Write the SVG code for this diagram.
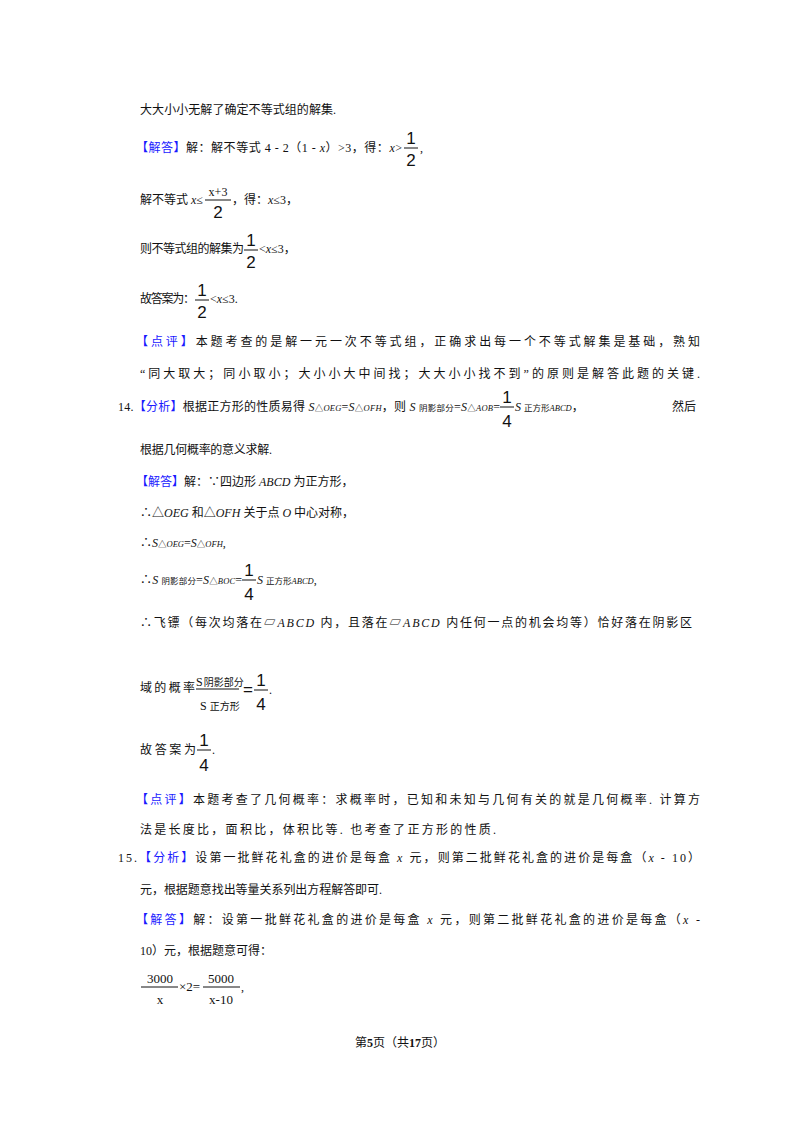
<svg xmlns="http://www.w3.org/2000/svg" width="800" height="1132" viewBox="0 0 800 1132">
<style>
text{font-family:"Liberation Serif","Noto Sans CJK SC",serif;font-size:12px;fill:#111}
.b{fill:#1a1aff}
.i{font-style:italic}
.s{font-size:8.5px}
.f{font-size:17px;font-family:"Liberation Sans","Noto Sans CJK SC",sans-serif}
.c{text-anchor:middle}
line{stroke:#111;stroke-width:1}
</style>
<rect width="800" height="1132" fill="#fff"/>
<text x="140" y="114" textLength="196">大大小小无解了确定不等式组的解集.</text>
<text x="136" y="152" textLength="266"><tspan class="b">【解答】</tspan>解：解不等式 4 - 2（1 - <tspan class="i">x</tspan>）&gt;3，得：<tspan class="i">x</tspan>&gt;</text>
<text x="411" y="144" class="f c">1</text><line x1="404" y1="148" x2="418" y2="148"/><text x="411" y="166" class="f c">2</text><text x="420" y="152">,</text>
<text x="140" y="204">解不等式 <tspan class="i">x</tspan>≤</text>
<text x="218" y="196" class="c">x+3</text><line x1="205" y1="200" x2="231" y2="200"/><text x="218" y="218" class="f c">2</text>
<text x="232" y="204">，得：<tspan class="i">x</tspan>≤3，</text>
<text x="140" y="253" textLength="104">则不等式组的解集为</text>
<text x="251" y="246" class="f c">1</text><line x1="244" y1="250" x2="258" y2="250"/><text x="251" y="268" class="f c">2</text>
<text x="259" y="253">&lt;<tspan class="i">x</tspan>≤3，</text>
<text x="140" y="303" textLength="55">故答案为：</text>
<text x="202" y="296" class="f c">1</text><line x1="195" y1="300" x2="209" y2="300"/><text x="202" y="318" class="f c">2</text>
<text x="210" y="303">&lt;<tspan class="i">x</tspan>≤3.</text>
<text x="136" y="346" textLength="564"><tspan class="b">【点评】</tspan>本题考查的是解一元一次不等式组，正确求出每一个不等式解集是基础，熟知</text>
<text x="140" y="378" textLength="560">“同大取大；同小取小；大小小大中间找；大大小小找不到”的原则是解答此题的关键.</text>
<text x="118" y="411" textLength="382">14.<tspan class="b">【分析】</tspan>根据正方形的性质易得 <tspan class="i">S</tspan><tspan class="s">△<tspan class="i">OEG</tspan></tspan>=<tspan class="i">S</tspan><tspan class="s">△<tspan class="i">OFH</tspan></tspan>，则 <tspan class="i">S</tspan> <tspan class="s">阴影部分</tspan>=<tspan class="i">S</tspan><tspan class="s">△<tspan class="i">AOB</tspan></tspan>=</text>
<text x="507" y="403" class="f c">1</text><line x1="500" y1="407" x2="514" y2="407"/><text x="507" y="427" class="f c">4</text>
<text x="515" y="411"><tspan class="i">S</tspan> <tspan class="s">正方形<tspan class="i">ABCD</tspan></tspan>，</text>
<text x="672" y="411">然后</text>
<text x="140" y="454" textLength="132">根据几何概率的意义求解.</text>
<text x="136" y="486"><tspan class="b">【解答】</tspan>解：∵四边形 <tspan class="i">ABCD</tspan> 为正方形，</text>
<text x="140" y="517">∴△<tspan class="i">OEG</tspan> 和△<tspan class="i">OFH</tspan> 关于点 <tspan class="i">O</tspan> 中心对称，</text>
<text x="140" y="547">∴<tspan class="i">S</tspan><tspan class="s">△<tspan class="i">OEG</tspan></tspan>=<tspan class="i">S</tspan><tspan class="s">△<tspan class="i">OFH</tspan></tspan>,</text>
<text x="140" y="584" textLength="102">∴<tspan class="i">S</tspan> <tspan class="s">阴影部分</tspan>=<tspan class="i">S</tspan><tspan class="s">△<tspan class="i">BOC</tspan></tspan>=</text>
<text x="249" y="576" class="f c">1</text><line x1="242" y1="580" x2="256" y2="580"/><text x="249" y="600" class="f c">4</text>
<text x="257" y="584"><tspan class="i">S</tspan> <tspan class="s">正方形<tspan class="i">ABCD</tspan></tspan>,</text>
<text x="140" y="627" textLength="552">∴飞镖（每次均落在▱<tspan class="i">ABCD</tspan> 内，且落在▱<tspan class="i">ABCD</tspan> 内任何一点的机会均等）恰好落在阴影区</text>
<text x="140" y="692" textLength="55">域的概率</text>
<text x="196" y="686">S<tspan dx="1" style="font-size:10px">阴影部分</tspan></text>
<line x1="196" y1="689" x2="239" y2="689"/>
<text x="200" y="710">S <tspan style="font-size:10px">正方形</tspan></text>
<text x="243" y="695" class="f">=</text>
<text x="261" y="686" class="f c">1</text><line x1="254" y1="690" x2="268" y2="690"/><text x="261" y="710" class="f c">4</text><text x="269" y="694">.</text>
<text x="140" y="754" textLength="56">故答案为</text>
<text x="204" y="746" class="f c">1</text><line x1="197" y1="750" x2="211" y2="750"/><text x="204" y="771" class="f c">4</text><text x="212" y="754">.</text>
<text x="136" y="804" textLength="564"><tspan class="b">【点评】</tspan>本题考查了几何概率：求概率时，已知和未知与几何有关的就是几何概率. 计算方</text>
<text x="140" y="834" textLength="356">法是长度比，面积比，体积比等. 也考查了正方形的性质.</text>
<text x="118" y="862" textLength="582">15.<tspan class="b">【分析】</tspan>设第一批鲜花礼盒的进价是每盒 <tspan class="i">x</tspan> 元，则第二批鲜花礼盒的进价是每盒（<tspan class="i">x</tspan> - 10）</text>
<text x="140" y="894" textLength="242">元，根据题意找出等量关系列出方程解答即可.</text>
<text x="136" y="924" textLength="564"><tspan class="b">【解答】</tspan>解：设第一批鲜花礼盒的进价是每盒 <tspan class="i">x</tspan> 元，则第二批鲜花礼盒的进价是每盒（<tspan class="i">x</tspan> -</text>
<text x="140" y="955">10）元，根据题意可得：</text>
<text x="160" y="983" class="c" style="font-size:13px">3000</text><line x1="141" y1="987" x2="178" y2="987"/><text x="160" y="1004" class="c" style="font-size:13px">x</text>
<text x="179" y="991" style="font-size:13px">×2=</text>
<text x="221" y="983" class="c" style="font-size:13px">5000</text><line x1="203" y1="987" x2="240" y2="987"/><text x="221" y="1004" class="c" style="font-size:13px">x-10</text><text x="241" y="991">,</text>
<text x="400" y="1047" class="c" style="font-size:12px">第<tspan style="font-weight:bold">5</tspan>页（共<tspan style="font-weight:bold">17</tspan>页）</text>
</svg>
